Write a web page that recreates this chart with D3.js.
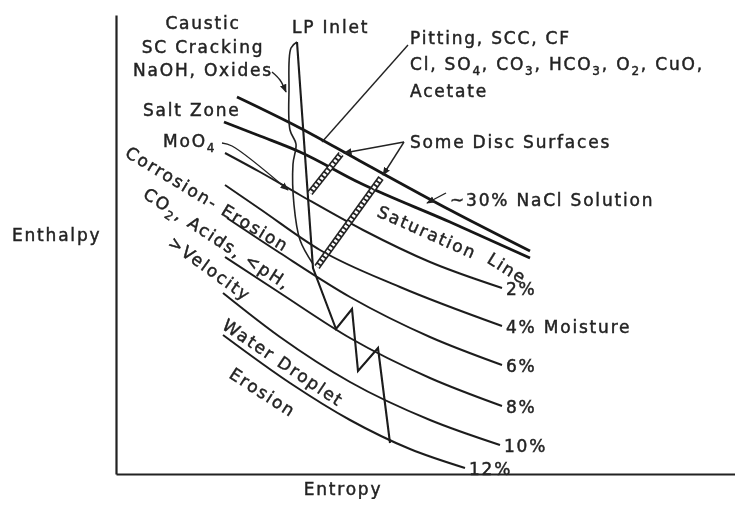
<!DOCTYPE html>
<html>
<head>
<meta charset="utf-8">
<script src="https://cdn.jsdelivr.net/npm/d3@7"></script>
<style>
  body { margin: 0; background: #fff; }
  svg text { font-family: "DejaVu Sans", sans-serif; font-size: 17px; letter-spacing: 1.8px; fill: #222; stroke: #222; stroke-width: 0.45px; }
</style>
</head>
<body>
<div id="chart"></div>
<script>
// Mollier-type sketch: LP turbine expansion through the salt zone / moisture region
// all points are [entropy, enthalpy] in arbitrary chart units

const saturationUpper = [[2.37, 4.03], [3.00, 3.72], [3.60, 3.39], [4.50, 2.90], [5.30, 2.49]];
const saturationLower = [[2.24, 3.78], [2.60, 3.64], [3.00, 3.48], [3.60, 3.17], [4.50, 2.78], [5.30, 2.42]];

const moistureLabels = ["2%", "4% Moisture", "6%", "8%", "10%", "12%"];
const moistureLines = [
  [[2.25, 3.47], [2.60, 3.28], [3.00, 3.05], [3.63, 2.70], [4.30, 2.38], [5.02, 2.12]],
  [[2.25, 3.15], [2.60, 2.91], [3.20, 2.50], [4.00, 2.13], [5.02, 1.74]],
  [[2.27, 2.82], [2.80, 2.47], [3.50, 2.03], [4.30, 1.63], [5.02, 1.35]],
  [[2.25, 2.43], [2.80, 2.07], [3.50, 1.62], [4.30, 1.22], [5.02, 0.94]],
  [[2.23, 2.07], [2.80, 1.63], [3.50, 1.18], [4.30, 0.80], [5.00, 0.55]],
  [[2.23, 1.65], [2.90, 1.17], [3.50, 0.80], [4.10, 0.51], [4.65, 0.32]]
];

// expansion line with the zig-zag through the wet stages
const expansionLine = [[2.97, 4.58], [3.13, 2.32], [3.36, 1.71], [3.52, 1.91], [3.58, 1.29], [3.78, 1.52], [3.90, 0.57]];
// left edge of the "LP Inlet" envelope
const inletEnvelope = [[2.97, 4.58], [2.91, 4.52], [2.89, 4.10], [2.90, 3.70], [2.96, 3.56], [2.93, 3.36], [2.94, 2.95], [3.00, 2.60], [3.13, 2.36]];

// "Some Disc Surfaces" hatched bars
const discBars = [
  [[3.10, 3.07], [3.41, 3.46]],
  [[3.17, 2.33], [3.81, 3.22]]
];

// leader lines: points, arrow at end?
const leaders = [
  { pts: [[2.72, 4.28], [2.80, 4.20], [2.86, 4.08]], arrow: true },   // NaOH, Oxides
  { pts: [[2.22, 3.57], [2.32, 3.54], [2.88, 3.10]], arrow: true },   // MoO4
  { pts: [[4.08, 4.55], [3.22, 3.58]], arrow: false },                // Pitting
  { pts: [[4.04, 3.58], [3.44, 3.47]], arrow: true },                 // disc surfaces 1
  { pts: [[4.04, 3.58], [3.83, 3.25]], arrow: true },                 // disc surfaces 2
  { pts: [[4.46, 3.07], [4.27, 2.97]], arrow: true }                  // NaCl
];

// free text labels ("_n" = subscript)
const labels = [
  { text: "Caustic", s: 2.03, h: 4.71, anchor: "middle" },
  { text: "SC Cracking", s: 2.03, h: 4.47, anchor: "middle" },
  { text: "NaOH, Oxides", s: 2.03, h: 4.24, anchor: "middle" },
  { text: "LP Inlet", s: 2.92, h: 4.67 },
  { text: "Pitting, SCC, CF", s: 4.10, h: 4.56 },
  { text: "Cl,  SO_4, CO_3, HCO_3, O_2, CuO,", s: 4.10, h: 4.30 },
  { text: "Acetate", s: 4.10, h: 4.03 },
  { text: "Salt Zone", s: 1.43, h: 3.84 },
  { text: "MoO_4", s: 1.63, h: 3.53 },
  { text: "Some Disc Surfaces", s: 4.10, h: 3.52 },
  { text: "~30% NaCl Solution", s: 4.50, h: 2.94 },
  { text: "Saturation", s: 3.76, h: 2.84, angle: 24 },
  { text: "Line", s: 4.86, h: 2.38, angle: 32 },
  { text: "Corrosion- Erosion", s: 1.24, h: 3.44, angle: 31 },
  { text: "CO_2, Acids, <pH,", s: 1.42, h: 3.03, angle: 33 },
  { text: ">Velocity", s: 1.67, h: 2.55, angle: 36 },
  { text: "Water Droplet", s: 2.21, h: 1.72, angle: 34 },
  { text: "Erosion", s: 2.28, h: 1.23, angle: 33 }
];

const xLabel = "Entropy";
const yLabel = "Enthalpy";

const width = 735;
const height = 508;

const svg = d3.select("#chart")
  .append("svg")
  .attr("width", width)
  .attr("height", height);

const x = d3.scaleLinear().domain([1.16, 7.35]).range([116, 735]);
const y = d3.scaleLinear().domain([0.26, 4.85]).range([474, 15]);

const defs = svg.append("defs");

// slight softening, the original is a scan
defs.append("filter")
  .attr("id", "soft")
  .append("feGaussianBlur")
  .attr("stdDeviation", 0.45);

// arrow head
defs.append("marker")
  .attr("id", "arrow")
  .attr("viewBox", "0 0 10 10")
  .attr("refX", 9)
  .attr("refY", 5)
  .attr("markerWidth", 6)
  .attr("markerHeight", 6)
  .attr("orient", "auto")
  .append("path")
  .attr("d", "M0,1L10,5L0,9z")
  .attr("fill", "#222");

const g = svg.append("g").attr("filter", "url(#soft)");

// axes: plain lines, no ticks
g.append("g")
  .attr("transform", `translate(0,${y(0.26)})`)
  .call(d3.axisBottom(x).ticks(0).tickSizeOuter(0))
  .select(".domain")
  .attr("stroke", "#222")
  .attr("stroke-width", 2.2);

g.append("g")
  .attr("transform", `translate(${x(1.16)},0)`)
  .call(d3.axisLeft(y).ticks(0).tickSizeOuter(0))
  .select(".domain")
  .attr("stroke", "#222")
  .attr("stroke-width", 2.2);

const smooth = d3.line().x(d => x(d[0])).y(d => y(d[1])).curve(d3.curveMonotoneX);
const straight = d3.line().x(d => x(d[0])).y(d => y(d[1]));
const loose = d3.line().x(d => x(d[0])).y(d => y(d[1])).curve(d3.curveCatmullRom);

// moisture lines
g.selectAll("path.moist")
  .data(moistureLines)
  .enter()
  .append("path")
  .attr("class", "moist")
  .attr("d", smooth)
  .attr("fill", "none")
  .attr("stroke", "#1e1e1e")
  .attr("stroke-width", 2);

// saturation / ~30% NaCl pair
[saturationUpper, saturationLower].forEach(line => {
  g.append("path")
    .attr("d", smooth(line))
    .attr("fill", "none")
    .attr("stroke", "#151515")
    .attr("stroke-width", 2.8);
});

// disc surface bars (chain look)
discBars.forEach(bar => {
  g.append("path").attr("d", straight(bar))
    .attr("stroke", "#222").attr("stroke-width", 6.5).attr("fill", "none");
  g.append("path").attr("d", straight(bar))
    .attr("stroke", "#fff").attr("stroke-width", 3.4).attr("fill", "none")
    .attr("stroke-dasharray", "2.6 1.8");
});

// LP inlet envelope + expansion line
g.append("path")
  .attr("d", loose(inletEnvelope))
  .attr("fill", "none")
  .attr("stroke", "#222")
  .attr("stroke-width", 1.6);

g.append("path")
  .attr("d", straight(expansionLine))
  .attr("fill", "none")
  .attr("stroke", "#1a1a1a")
  .attr("stroke-width", 2.1)
  .attr("stroke-linejoin", "miter");

// leaders
leaders.forEach(l => {
  g.append("path")
    .attr("d", loose(l.pts))
    .attr("fill", "none")
    .attr("stroke", "#222")
    .attr("stroke-width", 1.4)
    .attr("marker-end", l.arrow ? "url(#arrow)" : null);
});

// text with subscripts
function richText(sel, str) {
  const parts = str.split(/_(\d)/);
  let shift = 0;
  parts.forEach((p, i) => {
    if (!p) return;
    const t = sel.append("tspan").text(p);
    if (i % 2 === 1) {
      t.attr("dy", 5).style("font-size", "12px");
      shift = -5;
    } else if (shift) {
      t.attr("dy", shift);
      shift = 0;
    }
  });
}

labels.forEach(l => {
  const t = g.append("text")
    .attr("transform", `translate(${x(l.s)},${y(l.h)}) rotate(${l.angle || 0})`)
    .attr("text-anchor", l.anchor || "start");
  richText(t, l.text);
});

// moisture labels at the right end of each line
moistureLines.forEach((line, i) => {
  const end = line[line.length - 1];
  g.append("text")
    .attr("x", x(end[0]) + 4)
    .attr("y", y(end[1]) + 7)
    .text(moistureLabels[i]);
});

// axis titles
g.append("text")
  .attr("x", x(3.43))
  .attr("y", y(0.055))
  .attr("text-anchor", "middle")
  .text(xLabel);

g.append("text")
  .attr("x", x(0.12))
  .attr("y", y(2.59))
  .text(yLabel);
</script>
</body>
</html>
